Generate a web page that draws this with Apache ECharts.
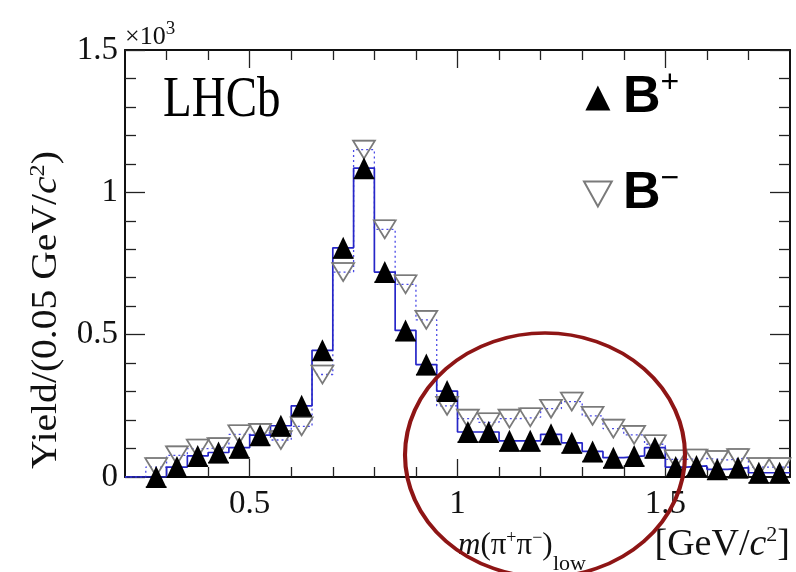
<!DOCTYPE html>
<html>
<head>
<meta charset="utf-8">
<script src="https://cdn.jsdelivr.net/npm/echarts@6/dist/echarts.min.js"></script>
<style>
  html, body { margin: 0; padding: 0; background: #fff; }
  #chart { width: 796px; height: 572px; }
</style>
</head>
<body>
<div id="chart"></div>
<script>
// m(pi+ pi-)_low bin centres [GeV/c^2], bin width 0.05
const binCenters = [0.225, 0.275, 0.325, 0.375, 0.425, 0.475, 0.525, 0.575,
  0.625, 0.675, 0.725, 0.775, 0.825, 0.875, 0.925, 0.975,
  1.025, 1.075, 1.125, 1.175, 1.225, 1.275, 1.325, 1.375,
  1.425, 1.475, 1.525, 1.575, 1.625, 1.675, 1.725, 1.775];
const binWidth = 0.05;

// Yield per bin, B+ candidates
const yieldBPlus = [null, 0, 35, 74, 86, 103, 147, 180,
  250, 445, 805, 1085, 720, 515, 395, 302,
  158, 158, 127, 127, 150, 120, 90, 68,
  74, 103, 35, 39, 27, 33, 15, 15];

// Yield per bin, B- candidates
const yieldBMinus = [null, 35, 76, 100, 105, 150, 155, 130,
  178, 360, 720, 1150, 870, 677, 552, 250,
  205, 192, 205, 210, 240, 265, 215, 170,
  148, 115, 62, 65, 60, 67, 35, 35];

// Axis ticks
const xMajorTicks = [0.5, 1, 1.5];
const xMinorTicks = [0.3, 0.4, 0.6, 0.7, 0.8, 0.9, 1.1, 1.2, 1.3, 1.4, 1.6, 1.7];
const yMajorTicks = [0, 500, 1000, 1500];
const yMinorTicks = [100, 200, 300, 400, 600, 700, 800, 900, 1100, 1200, 1300, 1400];

const serif = '"Liberation Serif", "DejaVu Serif", serif';
const sans = '"Liberation Sans", Arial, sans-serif';

function points(values) {
  const out = [];
  binCenters.forEach((c, i) => { if (values[i] !== null) out.push([c, values[i]]); });
  return out;
}

// histogram outline: one point per bin lower edge plus the final upper edge
function stepPoints(values) {
  const out = binCenters.map((c, i) => [c - binWidth / 2, values[i] === null ? 0 : values[i]]);
  const last = binCenters.length - 1;
  out.push([binCenters[last] + binWidth / 2, out[last][1]]);
  return out;
}

// horizontal bin-width bar, shifted to sit at the marker edge
function binBar(color, shift) {
  return function (params, api) {
    const x = api.value(0), v = api.value(1);
    const a = api.coord([x - binWidth / 2, v]);
    const b = api.coord([x + binWidth / 2, v]);
    return {
      type: 'line',
      shape: { x1: a[0], y1: a[1] + shift, x2: b[0], y2: b[1] + shift },
      style: { stroke: color, lineWidth: 1.4 }
    };
  };
}

function xAxisDef(position, ticks, len, withLabels, withLine) {
  return {
    type: 'value', min: 0.2, max: 1.8, position: position,
    axisLine: { show: withLine, onZero: false, lineStyle: { color: '#111', width: 2 } },
    axisTick: { show: true, inside: true, length: len, customValues: ticks,
      lineStyle: { color: '#222', width: 1.3 } },
    axisLabel: withLabels ? {
      show: true, customValues: ticks, margin: 11,
      fontFamily: serif, fontSize: 33, color: '#111',
      formatter: v => String(v)
    } : { show: false },
    splitLine: { show: false }
  };
}

function yAxisDef(position, ticks, len, withLabels, withLine) {
  return {
    type: 'value', min: 0, max: 1500, position: position,
    axisLine: { show: withLine, onZero: false, lineStyle: { color: '#111', width: 2 } },
    axisTick: { show: true, inside: true, length: len, customValues: ticks,
      lineStyle: { color: '#222', width: 1.3 } },
    axisLabel: withLabels ? {
      show: true, customValues: ticks, margin: 7,
      fontFamily: serif, fontSize: 33, color: '#111',
      formatter: v => String(v / 1000)
    } : { show: false },
    splitLine: { show: false }
  };
}

const chart = echarts.init(document.getElementById('chart'), null, { renderer: 'canvas' });

chart.setOption({
  animation: false,
  backgroundColor: '#fff',
  grid: { left: 125, right: 6, top: 50, bottom: 95, containLabel: false },
  xAxis: [
    xAxisDef('bottom', xMajorTicks, 18, true, true),
    xAxisDef('bottom', xMinorTicks, 10, false, false),
    xAxisDef('top', xMajorTicks, 18, false, true),
    xAxisDef('top', xMinorTicks, 10, false, false)
  ],
  yAxis: [
    yAxisDef('left', yMajorTicks, 20, true, true),
    yAxisDef('left', yMinorTicks, 11, false, false),
    yAxisDef('right', yMajorTicks, 20, false, true),
    yAxisDef('right', yMinorTicks, 11, false, false)
  ],
  legend: {
    data: [
      { name: 'B+', icon: 'path://M5,0 L10,10 L0,10 Z' },
      { name: 'B-', icon: 'path://M0,0 L10,0 L5,9 Z' }
    ],
    orient: 'vertical',
    left: 578, top: 62,
    itemWidth: 28, itemHeight: 25, itemGap: 34,
    selectedMode: false,
    formatter: name => name === 'B+' ? '{b|B}{s|+}' : '{b|B}{s|\u2212}',
    textStyle: {
      color: '#000',
      rich: {
        b: { fontFamily: sans, fontWeight: 'bold', fontSize: 52, lineHeight: 58, padding: [0, 0, 0, 6] },
        s: { fontFamily: sans, fontSize: 32, lineHeight: 32, padding: [0, 0, 30, 0] }
      }
    }
  },
  series: [
    {
      name: 'B- histogram', type: 'line', step: 'end', symbol: 'none',
      data: stepPoints(yieldBMinus),
      lineStyle: { color: '#4b4be6', width: 1.3, type: [2, 3] },
      z: 2
    },
    {
      name: 'B+ histogram', type: 'line', step: 'end', symbol: 'none',
      data: stepPoints(yieldBPlus),
      lineStyle: { color: '#2626c8', width: 1.7 },
      z: 3
    },
    {
      name: 'B- bins', type: 'custom', renderItem: binBar('#8a8a8a', -9),
      data: points(yieldBMinus), z: 4
    },
    {
      name: 'B+ bins', type: 'custom', renderItem: binBar('#111', 10),
      data: points(yieldBPlus), z: 5
    },
    {
      name: 'B-', type: 'scatter', data: points(yieldBMinus),
      symbol: 'triangle', symbolRotate: 180, symbolSize: [22, 18],
      itemStyle: { color: 'rgba(255,255,255,0)', borderColor: '#7a7a7a', borderWidth: 1.7, opacity: 1 },
      emphasis: { disabled: true }, z: 6
    },
    {
      name: 'B+', type: 'scatter', data: points(yieldBPlus),
      symbol: 'triangle', symbolSize: [21, 22],
      itemStyle: { color: '#000', opacity: 1 },
      emphasis: { disabled: true }, z: 7
    }
  ],
  graphic: [
    {
      type: 'text', left: 125, top: 20,
      style: {
        text: '\u00d710{p|3}', fontFamily: serif, fontSize: 26, fill: '#111',
        rich: { p: { fontFamily: serif, fontSize: 19, padding: [0, 0, 16, 0] } }
      }
    },
    {
      type: 'text', x: 163, y: 73, scaleY: 1.2,
      style: { text: 'LHCb', fontFamily: serif, fontSize: 47, fill: '#000', textVerticalAlign: 'top' }
    },
    {
      type: 'text', x: 47, y: 310, rotation: Math.PI / 2, scaleX: 1.1,
      style: {
        text: 'Yield/(0.05 GeV/{i|c}{p|2})',
        fontFamily: serif, fontSize: 36, fill: '#111',
        textAlign: 'center', textVerticalAlign: 'middle',
        rich: {
          i: { fontFamily: serif, fontStyle: 'italic', fontSize: 36 },
          p: { fontFamily: serif, fontSize: 22, padding: [0, 0, 18, 0] }
        }
      }
    },
    {
      type: 'text', x: 458, y: 546,
      style: {
        text: '{i|m}(\u03c0{p|+}\u03c0{p|\u2212})',
        fontFamily: serif, fontSize: 31, fill: '#111',
        textVerticalAlign: 'middle',
        rich: {
          i: { fontFamily: serif, fontStyle: 'italic', fontSize: 31 },
          p: { fontFamily: serif, fontSize: 18, padding: [0, 0, 16, 0] }
        }
      }
    },
    {
      type: 'text', x: 553, y: 564,
      style: { text: 'low', fontFamily: serif, fontSize: 22, fill: '#111', textVerticalAlign: 'middle' }
    },
    {
      type: 'text', x: 790, y: 545,
      style: {
        text: '[GeV/{i|c}{p|2}]',
        fontFamily: serif, fontSize: 38, fill: '#111',
        textAlign: 'right', textVerticalAlign: 'middle',
        rich: {
          i: { fontFamily: serif, fontStyle: 'italic', fontSize: 38 },
          p: { fontFamily: serif, fontSize: 22, padding: [0, 0, 20, 0] }
        }
      }
    },
    {
      type: 'circle', x: 545, y: 455, scaleX: 140 / 122, scaleY: 1,
      shape: { cx: 0, cy: 0, r: 122 },
      style: { fill: 'none', stroke: '#8e1515', lineWidth: 3.6 },
      z: 100
    }
  ]
});
</script>
</body>
</html>
